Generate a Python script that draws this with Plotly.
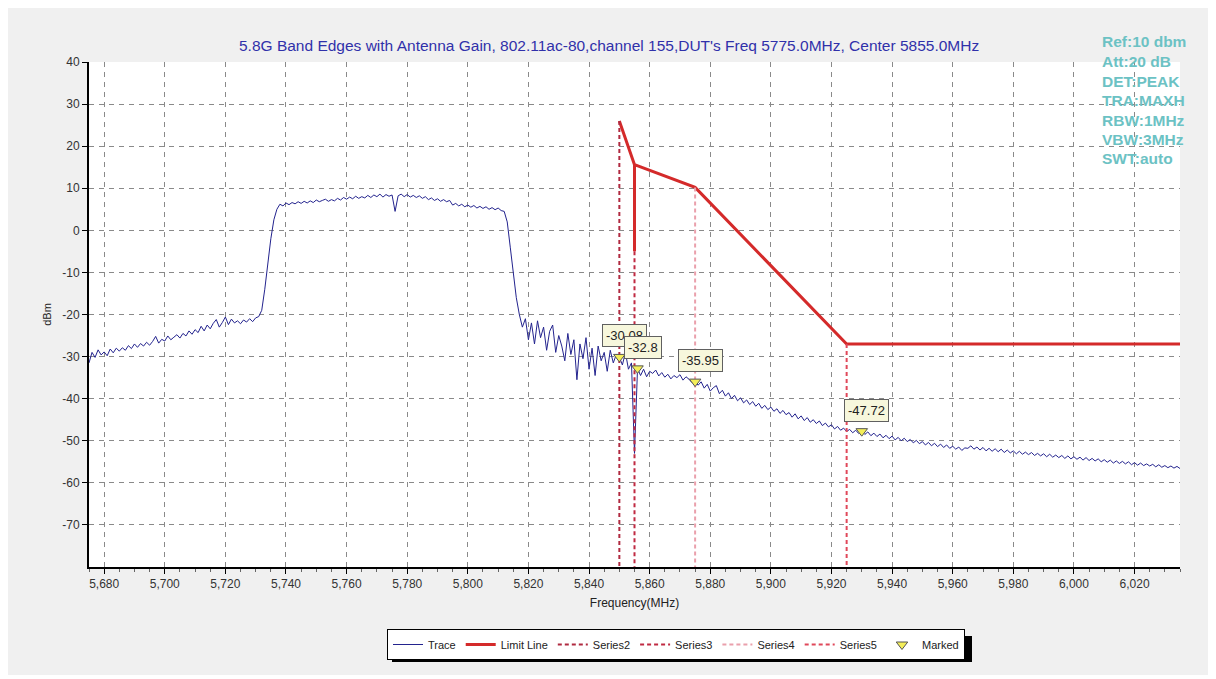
import plotly.graph_objects as go

# ---------------- data ----------------
sweep_start_mhz = 5675.0
sweep_step_mhz = 1.0

trace_dbm = [
    -31.5, -29.0, -30.2, -28.4, -29.6, -28.9, -29.8, -28.2, -29.1, -28.0,
    -28.7, -27.9, -28.5, -27.4, -28.1, -27.0, -27.8, -26.9, -27.5, -26.6,
    -27.3, -26.4, -25.2, -26.8, -25.9, -26.3, -25.1, -26.0, -25.4, -24.8,
    -25.6, -24.5, -25.1, -23.9, -24.7, -23.6, -24.3, -22.8, -23.9, -22.5,
    -23.4, -22.1, -21.2, -23.0, -21.9, -20.6, -22.4, -21.1, -22.0, -21.5,
    -22.2, -21.3, -21.8, -21.0, -21.7, -20.8, -20.5, -19.0, -14.0, -8.0,
    -2.0, 2.5, 5.0, 6.2, 5.8, 6.5, 6.1, 6.6, 6.3, 6.8,
    6.4, 6.9, 6.5, 7.0, 6.6, 7.2, 6.8, 7.1, 7.4, 6.9,
    7.3, 7.0, 7.6, 7.2, 7.8, 7.4, 7.9, 7.5, 8.1, 7.6,
    8.0, 7.7, 8.3, 7.8, 8.4, 8.0, 8.6, 7.9, 8.5, 8.1,
    8.4, 4.5, 8.2, 8.6, 8.0, 8.5, 7.9, 8.3, 7.8, 8.2,
    7.6, 8.0, 7.3, 7.7, 7.1, 7.5, 6.9, 7.3, 6.8, 7.1,
    6.0, 6.4, 5.8, 6.2, 5.6, 6.0, 5.5, 5.9, 5.3, 5.7,
    5.2, 5.6, 5.0, 5.4, 4.9, 5.3, 4.7, 4.5, 2.0, -4.0,
    -10.0, -16.0, -20.0, -23.0, -21.0, -26.0, -22.0, -27.0, -21.5, -25.5,
    -23.0, -28.5, -24.0, -22.5, -29.0, -25.0, -27.5, -31.0, -24.5, -29.5,
    -26.0, -35.5, -27.0, -30.5, -25.5, -33.0, -28.0, -34.5, -27.5, -31.0,
    -29.0, -33.5, -28.5, -31.5, -29.5, -30.1, -32.0, -29.0, -33.0, -31.5,
    -53.0, -32.8, -34.5, -33.0, -34.8, -33.5, -34.0, -33.2, -34.6, -33.8,
    -34.9, -34.2, -35.3, -34.5, -35.0, -34.3, -35.6, -34.8, -35.4, -36.2,
    -35.95, -36.8, -36.0, -37.5, -36.6, -38.2, -37.4, -36.9, -38.8, -38.0,
    -39.4, -38.6, -40.0, -39.2, -40.5, -39.8, -41.0, -40.3, -41.4, -40.7,
    -41.8, -41.1, -42.3, -41.6, -42.6, -42.0, -43.0, -42.4, -43.5, -42.8,
    -43.8, -43.3, -44.4, -43.6, -44.8, -44.1, -45.2, -44.5, -45.6, -45.0,
    -45.9, -45.3, -46.4, -45.8, -46.7, -46.2, -47.2, -46.6, -47.5, -47.0,
    -47.8, -47.3, -48.1, -47.5, -48.3, -47.72, -48.5, -47.9, -48.8, -48.2,
    -49.0, -48.4, -49.3, -48.7, -49.5, -48.9, -49.8, -49.2, -50.0, -49.4,
    -50.2, -49.7, -50.5, -49.9, -50.7, -50.2, -51.0, -50.4, -51.2, -50.6,
    -51.4, -50.8, -51.6, -51.0, -51.8, -51.3, -52.0, -51.5, -52.3, -51.7,
    -51.8, -51.2, -52.0, -51.5, -52.2, -51.6, -52.4, -51.8, -52.5, -51.9,
    -52.6, -52.0, -52.8, -52.2, -52.9, -52.4, -53.1, -52.5, -53.2, -52.7,
    -53.3, -52.8, -53.5, -53.0, -53.6, -53.1, -53.8, -53.2, -53.9, -53.4,
    -54.0, -53.5, -54.2, -53.6, -54.3, -53.8, -54.4, -53.9, -54.6, -54.0,
    -54.7, -54.2, -54.8, -54.3, -55.0, -54.5, -55.1, -54.6, -55.3, -54.8,
    -55.4, -54.9, -55.5, -55.0, -55.7, -55.2, -55.8, -55.3, -55.9, -55.5,
    -56.0, -55.6, -56.2, -55.7, -56.3, -55.9, -56.4, -56.0, -56.5, -56.1, -56.6,
]
trace_freq = [sweep_start_mhz + i * sweep_step_mhz for i in range(len(trace_dbm))]

limit_freq = [5850, 5855, 5855, 5855, 5875, 5925, 6035]
limit_dbm = [26.0, 15.6, -5.0, 15.6, 10.2, -27.0, -27.0]

series_names = ["Series2", "Series3", "Series4", "Series5"]
series_freq = [5850, 5855, 5875, 5925]
series_top = [26.0, -5.0, 10.2, -27.0]
series_bottom = -80.0
series_colors = ["#b02a40", "#c02a42", "#eaa0ac", "#e0485a"]

marked_freq = [5850, 5856, 5875, 5930]
marked_dbm = [-30.08, -32.8, -35.95, -47.72]

x_range = [5675, 6035]
y_range = [-80, 40]
y_ticks = [40, 30, 20, 10, 0, -10, -20, -30, -40, -50, -60, -70]
y_tick_labels = [str(v) for v in y_ticks]

title_text = ("5.8G Band Edges with Antenna Gain, 802.11ac-80,channel 155,"
              "DUT's Freq 5775.0MHz, Center 5855.0MHz")
info_lines = ["Ref:10 dbm", "Att:20 dB", "DET:PEAK", "TRA:MAXH",
              "RBW:1MHz", "VBW:3MHz", "SWT:auto"]

# ---------------- layout geometry (page pixels; page body has 8px margin) ----------------
OFF = 8
W, H = 1205, 667
L, R, T, B = 81, 33, 54, 108
PW, PH = W - L - R, H - T - B


def px(xp):
    return (xp - OFF - L) / PW


def py(yp):
    return (OFF + H - B - yp) / PH


FONT = "Liberation Sans, Arial, sans-serif"

fig = go.Figure()

fig.add_trace(go.Scatter(
    x=trace_freq, y=trace_dbm, mode="lines", name="Trace",
    line=dict(color="#23238e", width=1)))

fig.add_trace(go.Scatter(
    x=limit_freq, y=limit_dbm, mode="lines", name="Limit Line",
    line=dict(color="#d42a2a", width=3)))

for name, f, top, col in zip(series_names, series_freq, series_top, series_colors):
    fig.add_trace(go.Scatter(
        x=[f, f], y=[top, series_bottom], mode="lines", name=name,
        line=dict(color=col, width=2, dash="4px,3px")))

fig.add_trace(go.Scatter(
    x=marked_freq, y=marked_dbm, mode="markers", name="Marked",
    marker=dict(symbol="triangle-down", size=10, color="#f4ee5a",
                line=dict(color="#555555", width=1))))

annotations = []
for f, v in zip(marked_freq, marked_dbm):
    annotations.append(dict(
        x=f, y=v, xref="x", yref="y", text=f"{v:g}", showarrow=False,
        xshift=5, yshift=21, bgcolor="#f7f7dc", bordercolor="#606060",
        borderwidth=1, borderpad=3,
        font=dict(family=FONT, size=13, color="#222222")))

for i, line in enumerate(info_lines):
    annotations.append(dict(
        x=px(1100), y=py(42 + i * 19.5), xref="paper", yref="paper",
        xanchor="left", yanchor="middle", text=f"<b>{line}</b>", showarrow=False,
        font=dict(family=FONT, size=15.5, color="#6cc2c4")))

annotations.append(dict(
    x=px(609), y=py(46), xref="paper", yref="paper", xanchor="center",
    yanchor="middle", text=title_text, showarrow=False,
    font=dict(family=FONT, size=15.5, color="#3030aa")))

shapes = [
    # legend drop shadow
    dict(type="rect", xref="paper", yref="paper", x0=px(392), x1=px(972), y0=py(636), y1=py(662),
         fillcolor="black", line=dict(width=0), layer="above"),
]

fig.update_layout(
    width=W, height=H,
    margin=dict(l=L, r=R, t=T, b=B),
    paper_bgcolor="#f0f0f0", plot_bgcolor="white",
    font=dict(family=FONT, size=12, color="#333333"),
    showlegend=True,
    legend=dict(orientation="h", x=px(676), y=py(629), xanchor="center", yanchor="top",
                bgcolor="white", bordercolor="black", borderwidth=1,
                font=dict(family=FONT, size=11, color="#222222"),
                itemwidth=30, tracegroupgap=0),
    annotations=annotations,
    shapes=shapes,
    xaxis=dict(range=x_range, dtick=20, tick0=5680, tickformat=",d",
               showgrid=True, gridcolor="#8a8a8a", griddash="5px,5px", gridwidth=1,
               zeroline=False, showline=True, linecolor="black", linewidth=2,
               ticks="outside", ticklen=5, tickcolor="black",
               minor=dict(dtick=5, tick0=5680, ticks="outside", ticklen=3,
                          tickcolor="#666666", showgrid=False),
               title=dict(text="Frequency(MHz)", standoff=8,
                          font=dict(family=FONT, size=12, color="#222222")),
               tickfont=dict(family=FONT, size=12, color="#333333")),
    yaxis=dict(range=y_range, tickvals=y_ticks, ticktext=y_tick_labels,
               showgrid=True, gridcolor="#8a8a8a", griddash="5px,5px", gridwidth=1,
               zeroline=False, showline=True, linecolor="black", linewidth=2,
               ticks="outside", ticklen=5, tickcolor="black",
               title=dict(text="dBm", standoff=8,
                          font=dict(family=FONT, size=11, color="#222222")),
               tickfont=dict(family=FONT, size=12, color="#333333")),
)

fig.write_html("out.html")
